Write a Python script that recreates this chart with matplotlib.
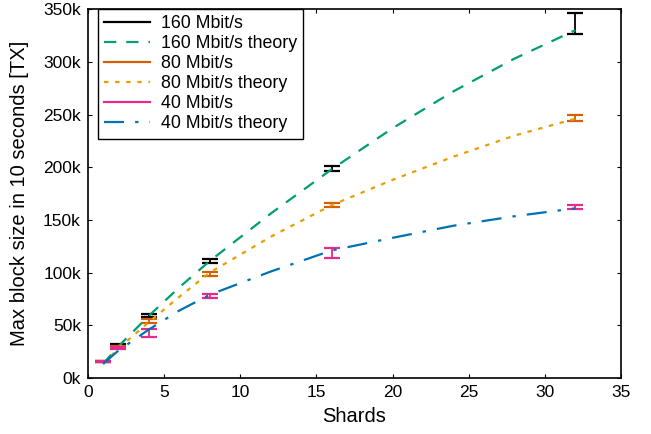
import matplotlib.pyplot as plt
from matplotlib.lines import Line2D
from matplotlib.ticker import FuncFormatter, MultipleLocator

plt.rcParams['font.family'] = ['Liberation Sans', 'DejaVu Sans']

# measured points (thousands of TX)
shards = [1, 2, 4, 8, 16, 32]
tx_160 = [16, 31.5, 59, 111, 198.5, 336]
err_160 = [0.5, 0.8, 1.5, 1.5, 2.5, 10]
tx_80 = [16, 30, 54, 99, 164, 247]
err_80 = [0.5, 0.8, 1.6, 2, 2, 3]
tx_40 = [16, 28.5, 42.7, 78, 118.5, 162]
err_40 = [0.5, 0.8, 3.5, 2, 5, 2]

# theory curves
shards_th = [1, 2, 4, 6, 8, 12, 16, 20, 24, 28, 32]
th_160 = [13.5, 30, 59, 86, 111, 156, 198, 237, 272, 303, 330]
th_80 = [13.5, 28, 53, 77, 100, 134, 164, 188, 210, 230, 246]
th_40 = [13.5, 26, 46, 64, 79, 101, 121, 133, 144.5, 153.5, 161]

c_160, c_160t = 'black', '#009e73'
c_80, c_80t = '#d55e00', '#e69f00'
c_40, c_40t = '#e7298a', '#0072b2'

fig = plt.figure(figsize=(6.51, 4.34), dpi=100)
ax = fig.add_axes([0.135, 0.129, 0.819, 0.850])

def k(v):
    return [i * 1000 for i in v]

eb = dict(fmt='none', capsize=6, elinewidth=1.3, capthick=1.6)
ax.errorbar(shards, k(tx_160), yerr=k(err_160), ecolor=c_160, zorder=2, **eb)
ax.plot(shards_th, k(th_160), color=c_160t, lw=1.6, dashes=(5.5, 4.5), zorder=3)
ax.errorbar(shards, k(tx_80), yerr=k(err_80), ecolor=c_80, zorder=4, **eb)
ax.plot(shards_th, k(th_80), color=c_80t, lw=1.6, dashes=(2, 3), zorder=5)
ax.errorbar(shards, k(tx_40), yerr=k(err_40), ecolor=c_40, zorder=6, **eb)
ax.plot(shards_th, k(th_40), color=c_40t, lw=1.6, dashes=(9, 5, 1.5, 5), zorder=7)

ax.set_xlim(0, 35)
ax.set_ylim(0, 350000)
ax.xaxis.set_major_locator(MultipleLocator(5))
ax.yaxis.set_major_locator(MultipleLocator(50000))
ax.yaxis.set_major_formatter(FuncFormatter(lambda v, p: f'{int(v / 1000)}k'))
ax.tick_params(direction='in', top=True, right=True, length=3, width=0.8,
               labelsize=12.5, pad=5)
for s in ax.spines.values():
    s.set_linewidth(1.2)

ax.set_xlabel('Shards', fontsize=14.5, labelpad=5)
ax.set_ylabel('Max block size in 10 seconds [TX]', fontsize=14.5, labelpad=10)

handles = [
    Line2D([], [], color=c_160, lw=1.6),
    Line2D([], [], color=c_160t, lw=1.6, dashes=(5.5, 4.5)),
    Line2D([], [], color=c_80, lw=1.6),
    Line2D([], [], color=c_80t, lw=1.6, dashes=(2, 3)),
    Line2D([], [], color=c_40, lw=1.6),
    Line2D([], [], color=c_40t, lw=1.6, dashes=(9, 5, 1.5, 5)),
]
labels = ['160 Mbit/s', '160 Mbit/s theory', '80 Mbit/s', '80 Mbit/s theory',
          '40 Mbit/s', '40 Mbit/s theory']
leg = ax.legend(handles, labels, loc='upper left', bbox_to_anchor=(0.019, 1.0),
                borderaxespad=0, fontsize=12.8, handlelength=2.6,
                handletextpad=0.6, labelspacing=0.17, borderpad=0.35,
                fancybox=False, framealpha=1, edgecolor='black')
leg.get_frame().set_linewidth(1.0)

fig.savefig('out.png', dpi=100)
